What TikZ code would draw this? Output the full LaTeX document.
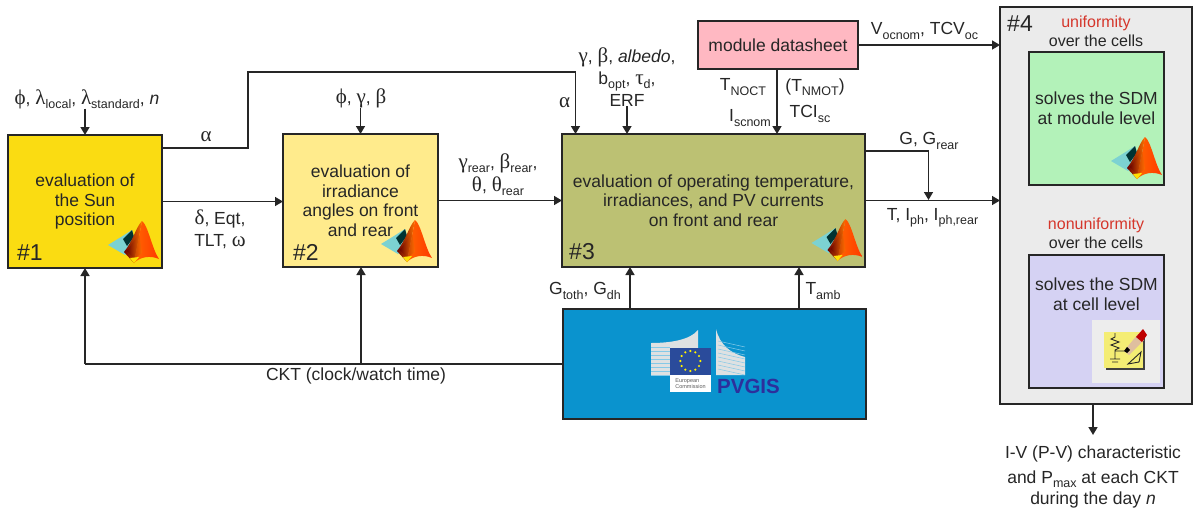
\documentclass[tikz,border=0pt]{standalone}
\usepackage{fontspec}
\setmainfont{Liberation Sans}
\newfontfamily\gkfont[Scale=1.2]{Liberation Serif}
\usetikzlibrary{arrows.meta,calc}
\definecolor{inkc}{HTML}{262626}
\definecolor{sunc}{HTML}{FADC12}
\definecolor{anglec}{HTML}{FFEB8C}
\definecolor{tempc}{HTML}{BCC173}
\definecolor{sheetc}{HTML}{FFB8C2}
\definecolor{pvgisc}{HTML}{0A93CE}
\definecolor{solverc}{HTML}{EBEBEB}
\definecolor{modulec}{HTML}{B3F2B9}
\definecolor{cellc}{HTML}{D5D2F3}
\definecolor{redc}{HTML}{D5362B}
\definecolor{wingc}{HTML}{7CD2D2}
\definecolor{flagc}{HTML}{2A4B9B}
\definecolor{gisc}{HTML}{2D2F9C}
\newcommand{\bodysize}{\fontsize{17.5}{19.5}\selectfont}
\newcommand{\smallsize}{\fontsize{16}{18}\selectfont}
\newcommand{\gk}[1]{{\gkfont #1}}
\newcommand{\low}[1]{\raisebox{-0.45ex}{\fontsize{12.5}{12.5}\selectfont #1}}
\newcommand{\membrane}[2]{%
  \begin{scope}[shift={(#1,#2)}]
    \fill[wingc] (-34,24) -- (-21,16) -- (-10,9) -- (-6,24) -- (-17,34) -- cycle;
    \fill[black!60!teal] (-19,18) -- (-10,9) -- (-8,16) -- (-15,25) -- cycle;
    \shade[left color=red!40!black, right color=orange!90!red] (0,0) .. controls (-6,6) and (-9,20) .. (-18,31) -- (-8,42) .. controls (-6,30) and (-2,12) .. (0,0) -- cycle;
    \shade[left color=orange!80!red, right color=red!55!orange] (0,0) .. controls (-2,12) and (-6,30) .. (-8,42) .. controls (-2,36) and (8,34) .. (17,38) .. controls (10,28) and (6,4) .. (0,0) -- cycle;
    \shade[left color=red!40!black, right color=orange!90!red, opacity=0.7] (-15,30) -- (-3,12) -- (0,32) -- (-8,38) -- cycle;
    \fill[yellow!85!orange] (-8,42) -- (-12,37) -- (-3,36) -- cycle;
  \end{scope}}
\tikzset{
  blockbox/.style={draw=inkc, line width=1.5pt, outer sep=0pt, inner sep=0pt, align=center, font=\bodysize, text=inkc},
  lbl/.style={inner sep=0pt, outer sep=0pt, align=center, font=\bodysize, text=inkc},
  tag/.style={inner sep=0pt, outer sep=0pt, font=\fontsize{23}{25}\selectfont, text=inkc},
  flow/.style={draw=inkc, line width=1.6pt, -{Triangle[length=8pt,width=9pt]}},
  wire/.style={draw=inkc, line width=1.6pt}
}
\begin{document}
\begin{tikzpicture}[x=1pt,y=-1pt]
    \useasboundingbox (0,0) rectangle (1200,517);

    % Blocks
    \node[blockbox, fill=sunc, minimum width=154pt, minimum height=133pt] (sun) at (85,201.5) {evaluation of\\the Sun\\position};
    \node[blockbox, fill=anglec, minimum width=155pt, minimum height=133pt] (angles) at (360.5,200.5) {evaluation of\\irradiance\\angles on front\\and rear};
    \node[blockbox, fill=tempc, minimum width=303pt, minimum height=133pt] (temp) at (713.5,200.5) {evaluation of operating temperature,\\irradiances, and PV currents\\on front and rear};
    \node[blockbox, fill=sheetc, minimum width=160pt, minimum height=48pt] (sheet) at (778,45) {module datasheet};
    \node[blockbox, fill=pvgisc, minimum width=303pt, minimum height=110pt] (pvgis) at (714.5,364) {};
    \node[blockbox, fill=solverc, minimum width=192pt, minimum height=397pt] (solver) at (1096,205.5) {};
    \node[blockbox, fill=modulec, minimum width=135pt, minimum height=133pt] (module) at (1096.5,118.5) {};
    \node[blockbox, fill=cellc, minimum width=135pt, minimum height=133pt] (cell) at (1096.5,321.5) {};

    % Block numbers
    \node[tag] (tagone) at (30,253) {\#1};
    \node[tag] (tagtwo) at (306,252) {\#2};
    \node[tag] (tagthree) at (582,252) {\#3};
    \node[tag] (tagfour) at (1020,24) {\#4};

    % Logos
    \membrane{142}{221}
    \membrane{415}{220}
    \membrane{845.5}{219}
    \membrane{1145}{137}

    % Solver texts
    \node[lbl, font=\smallsize] (uni) at (1096,23) {\textcolor{redc}{uniformity}};
    \node[lbl, font=\smallsize] (unicells) at (1096,41) {over the cells};
    \node[lbl] (modtext) at (1096.5,108) {solves the SDM\\at module level};
    \node[lbl, font=\smallsize] (nonuni) at (1096,225) {\textcolor{redc}{nonuniformity}};
    \node[lbl, font=\smallsize] (nonunicells) at (1096,243) {over the cells};
    \node[lbl] (celltext) at (1096.5,294) {solves the SDM\\at cell level};

    % Schematic icon
    \fill[black!7] (1092,320) rectangle (1160,383);
    \fill[black!75] (1106,334) rectangle (1145,370);
    \fill[yellow!55!white!95!black] (1104,332) rectangle (1143,368);
    \draw[inkc, line width=0.9pt] (1115,333) -- (1115,337) -- (1111,339) -- (1119,342) -- (1111,345) -- (1119,348) -- (1115,350) -- (1115,359) (1110,359) -- (1120,359) (1112,362) -- (1118,362) (1115,351) -- (1125,351);
    \draw[inkc, line width=0.9pt] (1128,364) -- (1141,352) -- (1139,362) -- cycle;
    \fill[brown!50!white] (1124,351) -- (1138,334) -- (1144,340) -- (1129,355) -- cycle;
    \fill[black] (1124,351) -- (1127,347) -- (1130,350) -- (1127,353) -- cycle;
    \fill[red!75!black] (1136,337) -- (1143,329) -- (1147,335) -- (1142,342) -- cycle;

    % PVGIS logo
    \fill[cyan!15!black!15!white] (651,343) .. controls (670,343) and (690,340) .. (698,330) -- (698,348) -- (670,348) -- (670,375) -- (651,375) -- cycle;
    \fill[cyan!15!black!15!white] (716,329) .. controls (720,345) and (730,353) .. (745,357) -- (745,375) -- (716,375) -- cycle;
    \foreach \i in {347,351,...,375} {
        \draw[pvgisc!50!white, line width=0.5pt] (651,\i) -- (670,\i);
        \draw[pvgisc!50!white, line width=0.5pt] (718,\i-6) -- (745,\i);
    }
    \fill[flagc] (670,348) rectangle (711,375);
    \fill[white] (670,375) rectangle (711,392);
    \foreach \a in {0,30,...,330} {
        \fill[yellow] ($(690.3,361)+(\a:10)$) circle (1.2);
    }
    \node[inner sep=0pt, align=left, text=black!65, font=\fontsize{5.5}{6.5}\selectfont] (eclabel) at (690.5,383.5) {European\\Commission};
    \node[inner sep=0pt, text=gisc, font=\fontsize{20.5}{22}\selectfont\bfseries] (pvgislabel) at (748.5,386) {PVGIS};

    % Input labels
    \node[lbl] (sunin) at (87,99) {\gk{ϕ}, \gk{λ}\low{local}, \gk{λ}\low{standard}, \textit{n}};
    \node[lbl] (anglein) at (361,98) {\gk{ϕ}, \gk{γ}, \gk{β}};
    \node[lbl] (alphatxt) at (206,137) {\gk{α}};
    \node[lbl] (alphatxtb) at (564.5,103) {\gk{α}};
    \node[lbl, font=\fontsize{17.5}{22}\selectfont] (suntxt) at (220,229) {\gk{δ}, Eqt,\\TLT, \gk{ω}};
    \node[lbl, font=\fontsize{17.5}{23}\selectfont] (angtxt) at (498,175) {\gk{γ}\low{rear}, \gk{β}\low{rear},\\\gk{θ}, \gk{θ}\low{rear}};
    \node[lbl, font=\fontsize{17.5}{22}\selectfont] (tempin) at (627,77) {\gk{γ}, \gk{β}, \textit{albedo},\\b\low{opt}, \gk{τ}\low{d},\\ERF};
    \node[lbl] (noct) at (743,87) {T\low{NOCT}};
    \node[lbl] (iscnom) at (750,118) {I\low{scnom}};
    \node[lbl] (nmot) at (815,87) {(T\low{NMOT})};
    \node[lbl] (tcisc) at (810,114) {TCI\low{sc}};
    \node[lbl] (voc) at (924.5,31) {V\low{ocnom}, TCV\low{oc}};
    \node[lbl] (gtxt) at (929,141) {G, G\low{rear}};
    \node[lbl] (ttxt) at (932.5,218) {T, I\low{ph}, I\low{ph,rear}};
    \node[lbl] (gtoth) at (585,291) {G\low{toth}, G\low{dh}};
    \node[lbl] (tamb) at (823,291) {T\low{amb}};
    \node[lbl] (ckt) at (356,376) {CKT (clock/watch time)};
    \node[lbl, font=\fontsize{17.5}{21}\selectfont] (result) at (1093,477) {I-V (P-V) characteristic\\[4pt]and P\low{max} at each CKT\\during the day \textit{n}};

    % Connector points
    \coordinate (alphaout) at (sun.east |- 0,148);
    \coordinate (alphatop) at (248,72);
    \coordinate (alphain) at (575.5,134);
    \coordinate (ergin) at (627,134);
    \coordinate (sheetin) at (777,134);
    \coordinate (gout) at (temp.east |- 0,151);
    \coordinate (gjoin) at (928.5,200);
    \coordinate (totin) at (630,267);
    \coordinate (ambin) at (799,267);
    \coordinate (pvback) at (85,364);
    \coordinate (backjoin) at (361,364);
    \coordinate (resulttip) at (1093,435);

    % Connectors
    \draw[flow] (sunin.south -| sun.north) -- (sun.north);
    \draw[flow] (anglein.south -| angles.north) -- (angles.north);
    \draw[flow] (alphaout) -| (alphatop) -| (alphain);
    \draw[flow] (sun.east) -- (sun.east -| angles.west);
    \draw[flow] (angles.east) -- (temp.west);
    \draw[flow] (tempin.south) -- (ergin);
    \draw[flow] (sheetin |- sheet.south) -- (sheetin);
    \draw[flow] (sheet.east) -- (sheet.east -| solver.west);
    \draw[flow] (temp.east) -- (temp.east -| solver.west);
    \draw[flow] (gout) -| (gjoin);
    \draw[flow] (totin |- pvgis.north) -- (totin);
    \draw[flow] (ambin |- pvgis.north) -- (ambin);
    \draw[wire] (pvgis.west) -- (pvback);
    \draw[flow] (pvback) -- (pvback |- sun.south);
    \draw[flow] (backjoin) -- (backjoin |- angles.south);
    \draw[flow] (resulttip |- solver.south) -- (resulttip);
\end{tikzpicture}
\end{document}
